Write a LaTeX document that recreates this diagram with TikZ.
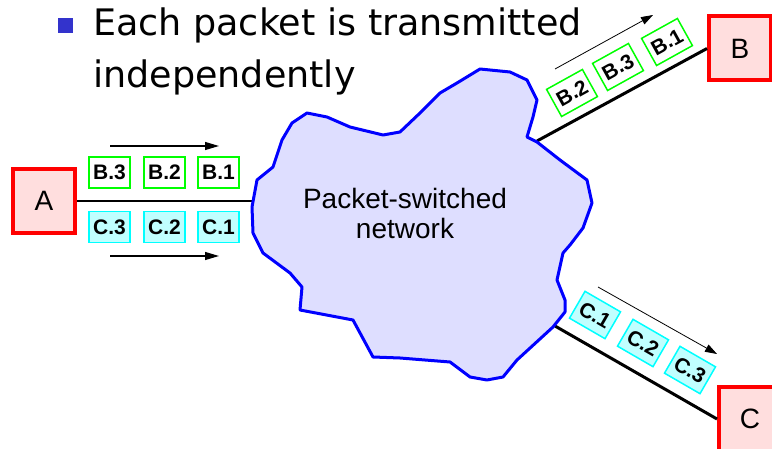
\documentclass[tikz,border=0pt]{standalone}
\usepackage{fontspec}
\setmainfont{Liberation Sans}
\newfontfamily\titlefont{DejaVu Sans}
\usetikzlibrary{arrows.meta}
\definecolor{hostred}{RGB}{255,0,0}
\definecolor{hostpink}{RGB}{255,222,222}
\definecolor{cloudfill}{RGB}{222,222,255}
\definecolor{cloudline}{RGB}{0,0,255}
\definecolor{pktgreen}{RGB}{0,255,0}
\definecolor{pktcyan}{RGB}{0,255,255}
\definecolor{pktcyanfill}{RGB}{192,255,255}
\definecolor{bulletblue}{RGB}{51,51,204}
\begin{document}
\begin{tikzpicture}[x=1pt,y=-1pt,
  host/.style={draw=hostred,fill=hostpink,line width=4pt,minimum width=62pt,
    minimum height=64pt,inner sep=0pt,font=\fontsize{28}{30}\selectfont},
  pkt/.style={line width=1.5pt,minimum width=41pt,minimum height=31pt,inner sep=0pt,
    font=\fontsize{21}{21}\selectfont\bfseries},
  pktB/.style={pkt,draw=pktgreen,fill=white},
  pktC/.style={pkt,draw=pktcyan,fill=pktcyanfill},
  link/.style={line width=3pt,black},
  flow/.style={line width=1.2pt,-{Triangle[length=14pt,width=8pt]}},
  flowthin/.style={line width=0.8pt,-{Triangle[length=12pt,width=8pt]}}]
\useasboundingbox (0,0) rectangle (772,449);

% heading with bullet
\fill[bulletblue] (58,18) rectangle (73,33);
\node[anchor=base west,inner sep=0pt,font=\titlefont\fontsize{36.5}{40}\selectfont]
  (t1) at (93,35.7) {Each packet is transmitted};
\node[anchor=base west,inner sep=0pt,font=\titlefont\fontsize{36.5}{40}\selectfont]
  (t2) at (93,87.7) {independently};

% hosts
\node[host] (A) at (44,201) {A};
\node[host] (B) at (740,48.5) {B};
\node[host] (C) at (750,419) {C};

% points where the links meet the cloud
\coordinate (ajoin) at (256,201);
\coordinate (bjoin) at (537,141);
\coordinate (cjoin) at (555,326);

% links
\draw[line width=2.2pt] (A.east) -- (ajoin);
\draw[link] (bjoin) -- (B.west);
\draw[link] (cjoin) -- (C.west);

% network cloud
\draw[cloudline,fill=cloudfill,line width=3pt,line join=round]
  (292,123) -- (307,113) -- (327,117) -- (350,127) -- (383,135) -- (400,132)
  -- (420,113) -- (440,93) -- (457,83) -- (480,69) -- (510,72) -- (527,80)
  -- (537,100) -- (533,117) -- (527,137) -- (537,142) -- (560,160) -- (587,180)
  -- (592,203) -- (583,228) -- (570,245) -- (563,253) -- (557,280) -- (565,300)
  -- (565,312) -- (553,327) -- (517,360) -- (503,377) -- (487,380) -- (470,377)
  -- (450,362) -- (400,358) -- (373,357) -- (353,320) -- (300,310) -- (302,287)
  -- (290,273) -- (263,253) -- (253,233) -- (252,207) -- (257,180) -- (273,167)
  -- (282,140) -- cycle;
\node[align=center,font=\fontsize{28}{30}\selectfont,inner sep=0pt]
  (net) at (405,213) {Packet-switched\\network};

% packets leaving A
\node[pktB] (a3) at (109.5,172.5) {B.3};
\node[pktB] (a2) at (164.5,172.5) {B.2};
\node[pktB] (a1) at (218.5,172.5) {B.1};
\node[pktC] (c3) at (109.5,227) {C.3};
\node[pktC] (c2) at (164.5,227) {C.2};
\node[pktC] (c1) at (218.5,227) {C.1};
\coordinate (fa0) at (110,146);
\coordinate (fa1) at (219,146);
\coordinate (fc0) at (110,256);
\coordinate (fc1) at (219,256);
\draw[flow] (fa0) -- (fa1);
\draw[flow] (fc0) -- (fc1);

% packets arriving at B
\node[pktB,rotate=29] (b2) at (572,93) {B.2};
\node[pktB,rotate=29] (b3) at (618,67) {B.3};
\node[pktB,rotate=29] (b1) at (667,42) {B.1};
\coordinate (fb0) at (555,69);
\coordinate (fb1) at (653,15);
\draw[flowthin] (fb0) -- (fb1);

% packets arriving at C
\node[pktC,rotate=-30] (d1) at (595,315) {C.1};
\node[pktC,rotate=-30] (d2) at (643,343) {C.2};
\node[pktC,rotate=-30] (d3) at (690,370) {C.3};
\coordinate (fd0) at (598,287);
\coordinate (fd1) at (717,354);
\draw[flowthin] (fd0) -- (fd1);
\end{tikzpicture}
\end{document}
